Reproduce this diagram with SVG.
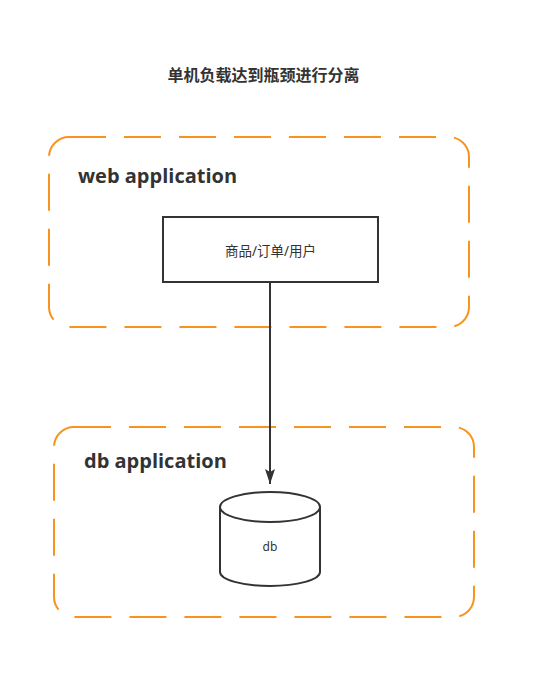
<svg xmlns="http://www.w3.org/2000/svg" width="537" height="681" viewBox="0 0 537 681">
<defs>
<style>
.grp{fill:none;stroke:#f7931e;stroke-width:2;stroke-dasharray:37 18}
.ttl{font-family:"Open Sans","Noto Sans","Noto Sans CJK SC",sans-serif;font-weight:bold;fill:#333}
.lbl{font-family:"Noto Sans","Noto Sans CJK SC",sans-serif;font-size:12px;fill:#333}
.shape{fill:#fff;stroke:#333;stroke-width:2}
</style>
<marker id="arr" markerWidth="15" markerHeight="10" refX="15" refY="5" orient="auto" markerUnits="userSpaceOnUse" viewBox="0 0 15 10">
<path d="M0,0 L15,5 L0,10 L3,5 Z" fill="#333"/>
</marker>
</defs>
<rect width="537" height="681" fill="#fff"/>
<text class="ttl" x="263.5" y="81" font-size="16" text-anchor="middle" font-family="Noto Sans CJK SC, sans-serif">单机负载达到瓶颈进行分离</text>
<g id="web-app">
<rect class="grp" x="49" y="137" width="420" height="190" rx="20" ry="20"/>
<text class="ttl" x="78" y="183" font-size="20">web application</text>
</g>
<g id="db-app">
<rect class="grp" x="54" y="427" width="420" height="190" rx="20" ry="20"/>
<text class="ttl" x="84" y="468" font-size="20">db application</text>
</g>
<g id="service">
<rect class="shape" x="163" y="217" width="215" height="65"/>
<text class="lbl" x="270.5" y="256" text-anchor="middle" style="font-size:13.5px">商品/订单/用户</text>
</g>
<g id="db">
<path class="shape" d="M220,507 A50,15 0 0 1 320,507 L320,572 A50,14 0 0 1 220,572 Z"/>
<path class="shape" fill="none" d="M220,507 A50,15 0 0 0 320,507"/>
<text class="lbl" x="270" y="551" text-anchor="middle">db</text>
</g>
<g id="connectors">
<line x1="270" y1="282" x2="270" y2="484" stroke="#333" stroke-width="2" marker-end="url(#arr)"/>
</g>
</svg>
